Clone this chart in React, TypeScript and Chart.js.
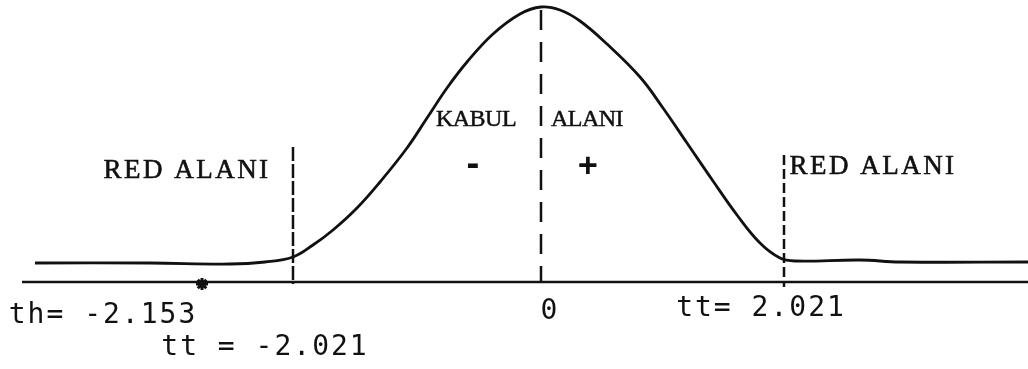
import React, { useEffect, useRef } from "react";
import { Chart, registerables } from "chart.js";

Chart.register(...registerables);

// Drawing units: x measured from the centre line (0), y measured up from the axis (0)
const curveX = [-506, -391, -311, -276, -248, -228, -208, -184, -161, -134, -114, -94, -74, -48, -21, 0, 19, 39, 66, 99, 122, 146, 172, 196, 219, 239, 254, 319, 359, 487];
const curveY = [19, 19, 18, 20, 25, 37, 52, 74, 100, 134, 164, 194, 220, 248, 268, 275, 272, 261, 238, 205, 174, 139, 101, 67, 39, 24, 21, 22, 20, 20];

const axisX = [-519, 487];
const axisY = [0, 0];

const centerLineX = [0, 0];
const centerLineY = [272, 0];
const leftCritX = [-248, -248];
const leftCritY = [135, -2];
const rightCritX = [243, 243];
const rightCritY = [127, -5];

const starX = [-339];
const starY = [-2];

const regionTexts = ["RED ALANI", "RED ALANI"];
const regionX = [-354, 332];
const regionY = [111, 115];

const acceptTexts = ["KABUL", "ALANI"];
const acceptX = [-65, 46];
const acceptY = [162, 162];

const signTexts = ["-", "+"];
const signX = [-68, 47];
const signY = [115, 115];

const valueTexts = ["th= -2.153", "tt = -2.021", "0", "tt= 2.021"];
const valueX = [-438, -276, 9, 220];
const valueY = [-34, -66, -30, -27];

const toPts = (xs: number[], ys: number[]) => xs.map((x, i) => ({ x, y: ys[i] }));

const textPlugin = {
  id: "textLabels",
  afterDatasetsDraw(chart: any) {
    const { ctx, scales } = chart;
    const xs = scales.x;
    const ys = scales.y;
    const draw = (texts: string[], px: number[], py: number[], font: string, spacing: string, stroke: number) => {
      ctx.save();
      ctx.fillStyle = "#111";
      ctx.strokeStyle = "#111";
      ctx.lineWidth = stroke;
      ctx.font = font;
      ctx.textAlign = "center";
      ctx.textBaseline = "middle";
      try { (ctx as any).letterSpacing = spacing; } catch (e) {}
      texts.forEach((t, i) => {
        const x = xs.getPixelForValue(px[i]);
        const y = ys.getPixelForValue(py[i]);
        ctx.fillText(t, x, y);
        if (stroke > 0) ctx.strokeText(t, x, y);
      });
      ctx.restore();
    };
    draw(regionTexts, regionX, regionY, "27px 'Liberation Serif'", "2.5px", 0.6);
    draw(acceptTexts, acceptX, acceptY, "24px 'Liberation Serif'", "-0.5px", 0.5);
    draw(signTexts, signX, signY, "bold 32px 'DejaVu Sans Mono'", "0px", 0);
    draw(valueTexts, valueX, valueY, "28px 'DejaVu Sans Mono'", "2px", 0);
  },
};

export default function App() {
  const ref = useRef<HTMLCanvasElement | null>(null);
  useEffect(() => {
    if (!ref.current) return;
    const lineDs = (xs: number[], ys: number[], width: number, dash: number[]) => ({
      data: toPts(xs, ys),
      showLine: true,
      borderColor: "#111",
      borderWidth: width,
      borderDash: dash,
      pointRadius: 0,
      tension: 0,
      fill: false,
    });
    const chart = new Chart(ref.current, {
      type: "scatter",
      data: {
        datasets: [
          { ...lineDs(curveX, curveY, 2.8, []), tension: 0.4 },
          lineDs(axisX, axisY, 2.5, []),
          lineDs(centerLineX, centerLineY, 2.5, [20, 12]),
          lineDs(leftCritX, leftCritY, 2.5, [14, 3]),
          lineDs(rightCritX, rightCritY, 2.5, [10, 4]),
          {
            data: toPts(starX, starY),
            pointStyle: "star",
            pointRadius: 6,
            borderColor: "#111",
            backgroundColor: "#111",
            borderWidth: 3,
            showLine: false,
          },
        ] as any,
      },
      options: {
        animation: false,
        responsive: false,
        layout: { padding: 0, autoPadding: false },
        plugins: { legend: { display: false }, tooltip: { enabled: false } },
        scales: {
          x: { type: "linear", min: -541, max: 487, display: false },
          y: { type: "linear", min: -87, max: 282, display: false },
        },
      } as any,
      plugins: [textPlugin],
    });
    return () => chart.destroy();
  }, []);
  return (
    <div style={{ position: "absolute", left: 0, top: 0, width: 1028, height: 369, background: "#fff" }}>
      <canvas ref={ref} width={1028} height={369} style={{ display: "block" }} />
    </div>
  );
}
